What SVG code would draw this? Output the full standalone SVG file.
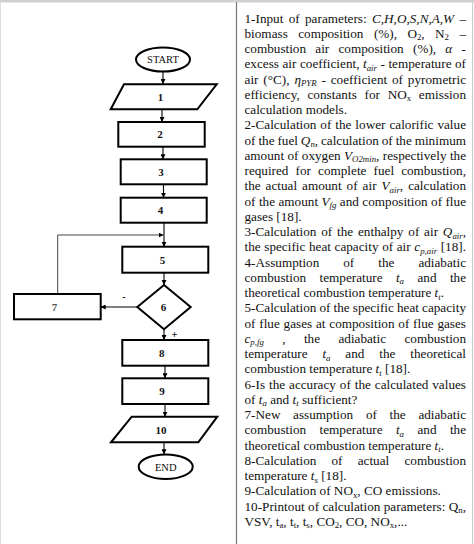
<svg xmlns="http://www.w3.org/2000/svg" width="474" height="544" viewBox="0 0 474 544">
<style>
.t{font-family:"Liberation Serif","Times New Roman",serif;font-size:13.2px;fill:#111}
.i{font-style:italic}
.s{font-size:8.8px}
.shape{fill:#fff;stroke:#000;stroke-width:2}
.lbl{font-family:"Liberation Serif","Times New Roman",serif;font-size:11px;font-weight:bold;fill:#111;text-anchor:middle}
.term{font-family:"Liberation Serif","Times New Roman",serif;font-size:10.5px;fill:#111;text-anchor:middle}
.con{fill:none;stroke:#000;stroke-width:1.1}
.fb{fill:none;stroke:#444;stroke-width:1}
</style>
<defs>
<marker id="ah" viewBox="0 0 10 10" refX="10" refY="5" markerWidth="5" markerHeight="5" orient="auto" markerUnits="userSpaceOnUse">
<path d="M0,0 L10,5 L0,10 z" fill="#000"/>
</marker>
</defs>
<rect x="0" y="0" width="474" height="544" fill="#fff"/>
<rect x="0" y="0" width="474" height="2.5" fill="#d0d0d0"/>
<line x1="0.5" y1="2" x2="0.5" y2="544" stroke="#ddd" stroke-width="1"/>
<line x1="472.5" y1="2" x2="472.5" y2="544" stroke="#ccc" stroke-width="1"/>
<line x1="236.5" y1="2" x2="236.5" y2="544" stroke="#777" stroke-width="1.2"/>

<g id="connectors">
<line class="con" x1="163" y1="71.5" x2="163" y2="84" marker-end="url(#ah)"/>
<line class="con" x1="162" y1="109.3" x2="162" y2="122" marker-end="url(#ah)"/>
<line class="con" x1="163" y1="146.7" x2="163" y2="159.3" marker-end="url(#ah)"/>
<line class="con" x1="163.5" y1="184.3" x2="163.5" y2="197.7" marker-end="url(#ah)"/>
<line class="con" x1="164" y1="222.7" x2="164" y2="246.7" marker-end="url(#ah)"/>
<polyline class="fb" points="57.7,294 57.7,235 163.5,235" marker-end="url(#ah)"/>
<line class="con" x1="164" y1="272.7" x2="164" y2="285" marker-end="url(#ah)"/>
<line class="con" x1="137.3" y1="307" x2="100.7" y2="307" marker-end="url(#ah)"/>
<line class="con" x1="164" y1="329.3" x2="164" y2="340" marker-end="url(#ah)"/>
<line class="con" x1="165" y1="365.7" x2="165" y2="378.3" marker-end="url(#ah)"/>
<line class="con" x1="165" y1="404" x2="165" y2="416.7" marker-end="url(#ah)"/>
<line class="con" x1="164" y1="442.3" x2="164" y2="454.3" marker-end="url(#ah)"/>
<text class="term" x="124" y="300" style="font-weight:bold">-</text>
<text class="term" x="174.5" y="338" style="font-weight:bold">+</text>
</g>

<g id="start"><ellipse class="shape" cx="163" cy="59.5" rx="27" ry="12"/><text class="term" x="163" y="63.3">START</text></g>
<g id="n1"><polygon class="shape" points="124,84.3 216.7,84.3 197.3,109.3 110.7,109.3"/><text class="lbl" x="160.5" y="100.5">1</text></g>
<g id="n2"><rect class="shape" x="118.3" y="122" width="86.4" height="24.7"/><text class="lbl" x="160" y="138.3">2</text></g>
<g id="n3"><rect class="shape" x="120.7" y="159.3" width="86" height="25"/><text class="lbl" x="161" y="175.8">3</text></g>
<g id="n4"><rect class="shape" x="120.7" y="197.7" width="86" height="25"/><text class="lbl" x="160.5" y="214.2">4</text></g>
<g id="n5"><rect class="shape" x="122.3" y="246.7" width="86" height="26"/><text class="lbl" x="162.5" y="263.5">5</text></g>
<g id="n6"><polygon class="shape" points="164,285 190.7,307 164,329.3 137.3,307"/><text class="lbl" x="163.5" y="311">6</text></g>
<g id="n7"><rect class="shape" x="14" y="294" width="86.7" height="25.3"/><text class="lbl" x="54.5" y="310.8" style="fill:#555">7</text></g>
<g id="n8"><rect class="shape" x="122.3" y="340" width="86" height="25.7"/><text class="lbl" x="161.7" y="356.5">8</text></g>
<g id="n9"><rect class="shape" x="122.3" y="378.3" width="86" height="25.7"/><text class="lbl" x="162" y="395">9</text></g>
<g id="n10"><polygon class="shape" points="131.7,416.7 217.3,416.7 198.3,442.3 111,442.3"/><text class="lbl" x="161" y="433.5">10</text></g>
<g id="end"><ellipse class="shape" cx="165.7" cy="466.7" rx="27" ry="12.3"/><text class="term" x="165.7" y="470.5">END</text></g>

<g id="legend">
<text class="t" x="244.5" y="22.5" textLength="221.5" lengthAdjust="spacing" style="word-spacing:2px">1-Input of parameters: <tspan class="i">C,H,O,S,N,A,W</tspan> –</text>
<text class="t" x="244.5" y="37.75" textLength="221.5" lengthAdjust="spacing" style="word-spacing:7.1px">biomass composition (%), O<tspan class="s" dy="2.5">2</tspan><tspan dy="-2.5">, N</tspan><tspan class="s" dy="2.5">2</tspan><tspan dy="-2.5"> –</tspan></text>
<text class="t" x="244.5" y="53" textLength="221.5" lengthAdjust="spacing" style="word-spacing:6px">combustion air composition (%), <tspan class="i">α</tspan> -</text>
<text class="t" x="244.5" y="68.25" textLength="221.5" lengthAdjust="spacing" style="word-spacing:0.2px">excess air coefficient, <tspan class="i">t</tspan><tspan class="i s" dy="2.5">air</tspan><tspan dy="-2.5"> - temperature of</tspan></text>
<text class="t" x="244.5" y="83.5" textLength="221.5" lengthAdjust="spacing" style="word-spacing:1.4px">air (°C), <tspan class="i">η</tspan><tspan class="i s" dy="2.5">PYR</tspan><tspan dy="-2.5"> - coefficient of pyrometric</tspan></text>
<text class="t" x="244.5" y="98.75" textLength="221.5" lengthAdjust="spacing" style="word-spacing:4.3px">efficiency, constants for NO<tspan class="s" dy="2.5">x</tspan><tspan dy="-2.5"> emission</tspan></text>
<text class="t" x="244.5" y="114">calculation models.</text>
<text class="t" x="244.5" y="129.25" textLength="221.5" lengthAdjust="spacing" style="word-spacing:0.6px">2-Calculation of the lower calorific value</text>
<text class="t" x="244.5" y="144.5" textLength="221.5" lengthAdjust="spacing" style="word-spacing:-0.4px">of the fuel <tspan class="i">Q</tspan><tspan class="i s" dy="2.5">n</tspan><tspan dy="-2.5">, calculation of the minimum</tspan></text>
<text class="t" x="244.5" y="159.75" textLength="221.5" lengthAdjust="spacing" style="word-spacing:0.1px">amount of oxygen <tspan class="i">V</tspan><tspan class="i s" dy="2.5">O2min</tspan><tspan dy="-2.5">, respectively the</tspan></text>
<text class="t" x="244.5" y="175" textLength="221.5" lengthAdjust="spacing" style="word-spacing:3.8px">required for complete fuel combustion,</text>
<text class="t" x="244.5" y="190.25" textLength="221.5" lengthAdjust="spacing" style="word-spacing:1.7px">the actual amount of air <tspan class="i">V</tspan><tspan class="i s" dy="2.5">air</tspan><tspan dy="-2.5">, calculation</tspan></text>
<text class="t" x="244.5" y="205.5" textLength="221.5" lengthAdjust="spacing" style="word-spacing:0.1px">of the amount <tspan class="i">V</tspan><tspan class="i s" dy="2.5">fg</tspan><tspan dy="-2.5"> and composition of flue</tspan></text>
<text class="t" x="244.5" y="220.75">gases [18].</text>
<text class="t" x="244.5" y="236" textLength="221.5" lengthAdjust="spacing" style="word-spacing:1.5px">3-Calculation of the enthalpy of air <tspan class="i">Q</tspan><tspan class="i s" dy="2.5">air</tspan><tspan dy="-2.5">,</tspan></text>
<text class="t" x="244.5" y="251.25" textLength="221.5" lengthAdjust="spacing" style="word-spacing:0.3px">the specific heat capacity of air <tspan class="i">c</tspan><tspan class="i s" dy="2.5">p,air</tspan><tspan dy="-2.5"> [18].</tspan></text>
<text class="t" x="244.5" y="266.5" textLength="221.5" lengthAdjust="spacing" style="word-spacing:20.7px">4-Assumption of the adiabatic</text>
<text class="t" x="244.5" y="281.75" textLength="221.5" lengthAdjust="spacing" style="word-spacing:10.1px">combustion temperature <tspan class="i">t</tspan><tspan class="i s" dy="2.5">a</tspan><tspan dy="-2.5"> and the</tspan></text>
<text class="t" x="244.5" y="297">theoretical combustion temperature <tspan class="i">t</tspan><tspan class="i s" dy="2.5">t</tspan><tspan dy="-2.5">.</tspan></text>
<text class="t" x="244.5" y="312.25" textLength="221.5" lengthAdjust="spacing" style="word-spacing:-0.2px">5-Calculation of the specific heat capacity</text>
<text class="t" x="244.5" y="327.5" textLength="221.5" lengthAdjust="spacing" style="word-spacing:0.5px">of flue gases at composition of flue gases</text>
<text class="t" x="244.5" y="342.75" textLength="221.5" lengthAdjust="spacing" style="word-spacing:15.1px"><tspan class="i">c</tspan><tspan class="i s" dy="2.5">p,fg</tspan><tspan dy="-2.5"> , the adiabatic combustion</tspan></text>
<text class="t" x="244.5" y="358" textLength="221.5" lengthAdjust="spacing" style="word-spacing:11.6px">temperature <tspan class="i">t</tspan><tspan class="i s" dy="2.5">a</tspan><tspan dy="-2.5"> and the theoretical</tspan></text>
<text class="t" x="244.5" y="373.25">combustion temperature <tspan class="i">t</tspan><tspan class="i s" dy="2.5">t</tspan><tspan dy="-2.5"> [18].</tspan></text>
<text class="t" x="244.5" y="388.5" textLength="221.5" lengthAdjust="spacing" style="word-spacing:0.6px">6-Is the accuracy of the calculated values</text>
<text class="t" x="244.5" y="403.75">of <tspan class="i">t</tspan><tspan class="i s" dy="2.5">a</tspan><tspan dy="-2.5"> and </tspan><tspan class="i">t</tspan><tspan class="i s" dy="2.5">t</tspan><tspan dy="-2.5"> sufficient?</tspan></text>
<text class="t" x="244.5" y="419" textLength="221.5" lengthAdjust="spacing" style="word-spacing:9.4px">7-New assumption of the adiabatic</text>
<text class="t" x="244.5" y="434.25" textLength="221.5" lengthAdjust="spacing" style="word-spacing:10.1px">combustion temperature <tspan class="i">t</tspan><tspan class="i s" dy="2.5">a</tspan><tspan dy="-2.5"> and the</tspan></text>
<text class="t" x="244.5" y="449.5">theoretical combustion temperature <tspan class="i">t</tspan><tspan class="i s" dy="2.5">t</tspan><tspan dy="-2.5">.</tspan></text>
<text class="t" x="244.5" y="464.75" textLength="221.5" lengthAdjust="spacing" style="word-spacing:11.9px">8-Calculation of actual combustion</text>
<text class="t" x="244.5" y="480">temperature <tspan class="i">t</tspan><tspan class="i s" dy="2.5">s</tspan><tspan dy="-2.5"> [18].</tspan></text>
<text class="t" x="244.5" y="495.25">9-Calculation of NO<tspan class="s" dy="2.5">x</tspan><tspan dy="-2.5">, CO emissions.</tspan></text>
<text class="t" x="244.5" y="510.5" textLength="221.5" lengthAdjust="spacing" style="word-spacing:0.1px">10-Printout of calculation parameters: Q<tspan class="s" dy="2.5">n</tspan><tspan dy="-2.5">,</tspan></text>
<text class="t" x="244.5" y="525.75">VSV, t<tspan class="s" dy="2.5">a</tspan><tspan dy="-2.5">, t</tspan><tspan class="s" dy="2.5">t</tspan><tspan dy="-2.5">, t</tspan><tspan class="s" dy="2.5">s</tspan><tspan dy="-2.5">, CO</tspan><tspan class="s" dy="2.5">2</tspan><tspan dy="-2.5">, CO, NO</tspan><tspan class="s" dy="2.5">x</tspan><tspan dy="-2.5">,...</tspan></text>
</g>
</svg>
